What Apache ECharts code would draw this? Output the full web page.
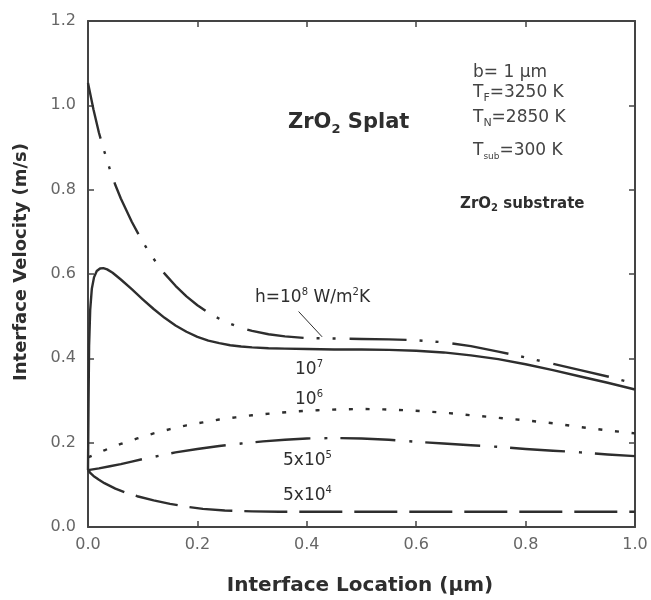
<!DOCTYPE html>
<html><head><meta charset="utf-8">
<script src="https://cdn.jsdelivr.net/npm/echarts@6/dist/echarts.min.js"></script>
<style>html,body{margin:0;padding:0;background:#fff}#c{width:651px;height:600px}</style>
</head><body><div id="c"></div>
<script>
// Interface location (µm) and interface velocity (m/s) for each heat transfer coefficient h
const h8X = [0, 0.01, 0.02, 0.03, 0.04, 0.05, 0.06, 0.08, 0.10, 0.12, 0.14, 0.16, 0.18, 0.20, 0.22, 0.24, 0.26, 0.28, 0.30, 0.33, 0.36, 0.40, 0.45, 0.50, 0.55, 0.60, 0.65, 0.70, 0.75, 0.80, 0.85, 0.90, 0.95, 1.0];
const h8Y = [1.053, 0.99, 0.935, 0.89, 0.848, 0.811, 0.779, 0.724, 0.676, 0.636, 0.601, 0.572, 0.547, 0.526, 0.508, 0.494, 0.482, 0.472, 0.465, 0.457, 0.452, 0.448, 0.447, 0.446, 0.445, 0.443, 0.438, 0.429, 0.416, 0.402, 0.387, 0.372, 0.357, 0.34];
const h7X = [0, 0.001, 0.002, 0.004, 0.007, 0.011, 0.016, 0.022, 0.028, 0.035, 0.045, 0.06, 0.08, 0.10, 0.12, 0.14, 0.16, 0.18, 0.20, 0.22, 0.24, 0.26, 0.28, 0.30, 0.33, 0.36, 0.40, 0.45, 0.50, 0.55, 0.60, 0.65, 0.70, 0.75, 0.80, 0.85, 0.90, 0.95, 1.0];
const h7Y = [0.135, 0.30, 0.43, 0.515, 0.565, 0.592, 0.607, 0.613, 0.614, 0.611, 0.603, 0.587, 0.564, 0.54, 0.517, 0.496, 0.478, 0.463, 0.451, 0.442, 0.436, 0.431, 0.428, 0.426, 0.424, 0.423, 0.422, 0.421, 0.421, 0.420, 0.418, 0.414, 0.407, 0.398, 0.386, 0.372, 0.357, 0.342, 0.326];
const h6X = [0, 0.03, 0.06, 0.09, 0.12, 0.15, 0.18, 0.21, 0.24, 0.27, 0.30, 0.34, 0.38, 0.42, 0.46, 0.50, 0.54, 0.58, 0.62, 0.66, 0.70, 0.75, 0.80, 0.85, 0.90, 0.95, 1.0];
const h6Y = [0.165, 0.182, 0.197, 0.21, 0.222, 0.232, 0.241, 0.248, 0.255, 0.26, 0.265, 0.27, 0.274, 0.277, 0.279, 0.28, 0.279, 0.277, 0.274, 0.27, 0.265, 0.259, 0.253, 0.246, 0.237, 0.229, 0.222];
const h55X = [0, 0.02, 0.04, 0.06, 0.08, 0.10, 0.13, 0.16, 0.20, 0.24, 0.28, 0.32, 0.36, 0.40, 0.45, 0.50, 0.55, 0.60, 0.65, 0.70, 0.75, 0.80, 0.85, 0.90, 0.95, 1.0];
const h55Y = [0.135, 0.139, 0.144, 0.149, 0.155, 0.161, 0.169, 0.177, 0.185, 0.192, 0.198, 0.203, 0.207, 0.21, 0.211, 0.21, 0.207, 0.202, 0.198, 0.194, 0.19, 0.185, 0.181, 0.177, 0.172, 0.168];
const h54X = [0, 0.005, 0.01, 0.02, 0.03, 0.05, 0.07, 0.09, 0.12, 0.15, 0.18, 0.21, 0.25, 0.30, 0.35, 0.4, 0.6, 0.8, 1.0];
const h54Y = [0.135, 0.127, 0.121, 0.112, 0.104, 0.091, 0.081, 0.073, 0.063, 0.055, 0.048, 0.043, 0.039, 0.037, 0.036, 0.036, 0.036, 0.036, 0.036];
// leader line from the h=10^8 label to its curve (data coordinates)
const leaderX = [0.385, 0.428];
const leaderY = [0.511, 0.451];

const zip = (xs, ys) => xs.map((x, i) => [x, ys[i]]);
const ink = '#2e2e2e';
const FONT = '"DejaVu Sans", sans-serif';

function mkLine(name, xs, ys, dash) {
  return {
    name, type: 'line', data: zip(xs, ys), showSymbol: false, smooth: false,
    lineStyle: { color: ink, width: 2.4, type: dash, cap: 'butt', join: 'round' }, z: 3
  };
}

const chart = echarts.init(document.getElementById('c'), null, { renderer: 'canvas' });
const sup = { fontFamily: FONT, fontSize: 10, lineHeight: 10, verticalAlign: 'top', fill: ink };
const subS = { fontFamily: FONT, fontSize: 11, lineHeight: 11, verticalAlign: 'bottom', fill: '#444' };
const nrm = { fontFamily: FONT, fontSize: 17, lineHeight: 22, fill: ink };
const nrmG = { fontFamily: FONT, fontSize: 17, lineHeight: 21, fill: '#444' };

const axisCommon = {
  axisLine: { show: true, onZero: false, lineStyle: { color: '#444', width: 2 } },
  axisTick: { show: true, inside: true, length: 6, lineStyle: { color: '#444', width: 1.5 } },
  splitLine: { show: false }
};

chart.setOption({
  animation: false,
  backgroundColor: '#fff',
  grid: { left: 88, right: 16, top: 21, bottom: 73 },
  xAxis: [Object.assign({
    type: 'value', min: 0, max: 1, interval: 0.2,
    axisLabel: { formatter: v => v.toFixed(1), fontFamily: FONT, fontSize: 16, color: '#666', margin: 10 }
  }, axisCommon), Object.assign({
    type: 'value', min: 0, max: 1, interval: 0.2, position: 'top', axisLabel: { show: false }
  }, axisCommon)],
  yAxis: [Object.assign({
    type: 'value', min: 0, max: 1.2, interval: 0.2,
    axisLabel: { formatter: v => v.toFixed(1), fontFamily: FONT, fontSize: 16, color: '#666', margin: 12 }
  }, axisCommon), Object.assign({
    type: 'value', min: 0, max: 1.2, interval: 0.2, position: 'right', axisLabel: { show: false }
  }, axisCommon)],
  series: [
    Object.assign(mkLine('h=1e8', h8X, h8Y, [57, 13, 3, 13, 3, 14]), {
      markLine: {
        symbol: 'none', silent: true, label: { show: false },
        lineStyle: { color: ink, width: 1, type: 'solid' },
        data: [[{ coord: [leaderX[0], leaderY[0]] }, { coord: [leaderX[1], leaderY[1]] }]]
      }
    }),
    mkLine('h=1e7', h7X, h7Y, 'solid'),
    mkLine('h=1e6', h6X, h6Y, [4, 12.7]),
    mkLine('h=5e5', h55X, h55Y, [55, 14, 3, 13]),
    mkLine('h=5e4', h54X, h54Y, [43, 12])
  ],
  graphic: [
    { type: 'text', x: 360, y: 586, style: { text: 'Interface Location (μm)', align: 'center', verticalAlign: 'middle',
        fontFamily: FONT, fontSize: 20, fontWeight: 'bold', fill: ink } },
    { type: 'text', x: 21, y: 262, rotation: Math.PI / 2, style: { text: 'Interface Velocity (m/s)', align: 'center', verticalAlign: 'middle',
        fontFamily: FONT, fontSize: 18, fontWeight: 'bold', fill: ink } },
    { type: 'text', x: 288, y: 123, style: {
        text: '{b|ZrO}{bs|2}{b| Splat}', verticalAlign: 'middle', rich: {
          b: { fontFamily: FONT, fontSize: 21, fontWeight: 'bold', lineHeight: 26, fill: ink },
          bs: { fontFamily: FONT, fontSize: 13, fontWeight: 'bold', lineHeight: 13, verticalAlign: 'bottom', fill: ink }
        } } },
    { type: 'text', x: 473, y: 73, style: { text: '{n|b= 1 μm}', verticalAlign: 'middle', rich: { n: nrmG } } },
    { type: 'text', x: 473, y: 93, style: { text: '{n|T}{s|F}{n|=3250 K}', verticalAlign: 'middle', rich: { n: nrmG, s: subS } } },
    { type: 'text', x: 473, y: 118, style: { text: '{n|T}{s|N}{n|=2850 K}', verticalAlign: 'middle', rich: { n: nrmG, s: subS } } },
    { type: 'text', x: 473, y: 151, style: { text: '{n|T}{s|sub}{n|=300 K}', verticalAlign: 'middle', rich: { n: nrmG, s: Object.assign({}, subS, { fontSize: 9, lineHeight: 9 }) } } },
    { type: 'text', x: 460, y: 204, style: {
        text: '{b|ZrO}{s|2}{b| substrate}', verticalAlign: 'middle', rich: {
          b: { fontFamily: FONT, fontSize: 15, fontWeight: 'bold', lineHeight: 19, fill: ink },
          s: { fontFamily: FONT, fontSize: 10, fontWeight: 'bold', lineHeight: 10, verticalAlign: 'bottom', fill: ink } } } },
    { type: 'text', x: 255, y: 298, style: { text: '{n|h=10}{p|8}{n| W/m}{p|2}{n|K}', verticalAlign: 'middle', rich: { n: nrm, p: sup } } },
    { type: 'text', x: 295, y: 370, style: { text: '{n|10}{p|7}', verticalAlign: 'middle', rich: { n: nrm, p: sup } } },
    { type: 'text', x: 295, y: 400, style: { text: '{n|10}{p|6}', verticalAlign: 'middle', rich: { n: nrm, p: sup } } },
    { type: 'text', x: 283, y: 461, style: { text: '{n|5x10}{p|5}', verticalAlign: 'middle', rich: { n: nrm, p: sup } } },
    { type: 'text', x: 283, y: 496, style: { text: '{n|5x10}{p|4}', verticalAlign: 'middle', rich: { n: nrm, p: sup } } }
  ]
});
</script></body></html>
